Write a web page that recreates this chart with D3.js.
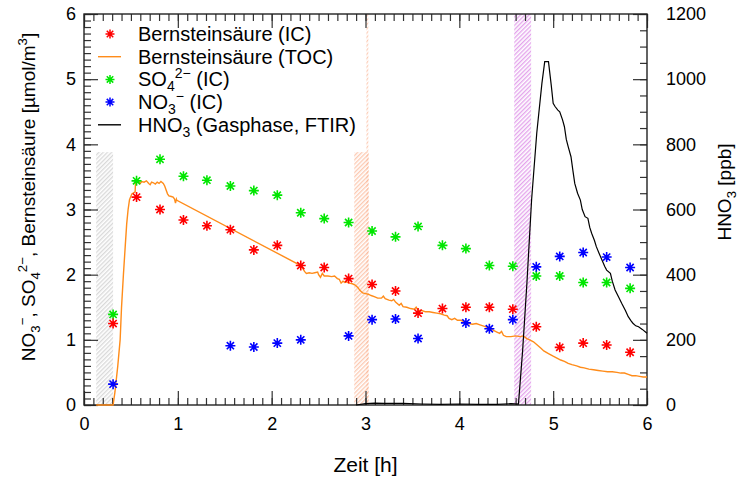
<!DOCTYPE html>
<html>
<head>
<meta charset="utf-8">
<script src="https://cdn.jsdelivr.net/npm/d3@7"></script>
<style>
  html, body { margin: 0; padding: 0; background: #fff; }
  svg { display: block; font-family: "Liberation Sans", Arial, Helvetica, sans-serif; }
</style>
</head>
<body>
<div id="chart"></div>
<script>
// ---- data ----
const sampleTimes = [0.31, 0.56, 0.81, 1.06, 1.31, 1.56, 1.81, 2.06, 2.31, 2.56, 2.82, 3.07,
                     3.32, 3.56, 3.82, 4.07, 4.32, 4.57, 4.82, 5.07, 5.32, 5.57, 5.82];
const succinicIC = [1.25, 3.19, 3.00, 2.84, 2.75, 2.69, 2.38, 2.45, 2.14, 2.11, 1.94, 1.85,
                    1.75, 1.41, 1.48, 1.50, 1.50, 1.47, 1.20, 0.885, 0.95, 0.92, 0.81];
const sulfateIC = [1.39, 3.44, 3.77, 3.51, 3.45, 3.36, 3.29, 3.22, 2.95, 2.86, 2.80, 2.67,
                   2.58, 2.74, 2.45, 2.40, 2.14, 2.13, 1.98, 1.98, 1.88, 1.88, 1.79];
const nitrateIC = [0.32, null, null, null, null, 0.91, 0.89, 0.95, 1.00, null, 1.06, 1.31,
                   1.32, 1.02, null, 1.26, 1.17, 1.31, 2.12, 2.28, 2.34, 2.27, 2.11];

const tocTime = [0.13, 0.31, 0.33, 0.36, 0.385, 0.40, 0.42, 0.44, 0.455, 0.47, 0.485, 0.51, 0.545,
  0.55, 0.58, 0.60, 0.615, 0.64, 0.665, 0.69, 0.705, 0.72, 0.74, 0.76, 0.78, 0.80, 0.82, 0.845,
  0.86, 0.875, 0.89, 0.905, 0.93, 0.95, 0.965, 0.975, 0.985, 0.99,
  2.31, 2.33, 2.35, 2.37, 2.40, 2.43, 2.46, 2.49, 2.50, 2.52, 2.54, 2.56, 2.60, 2.64, 2.67, 2.70,
  2.72, 2.74, 2.76, 2.78, 2.80, 2.83, 2.86, 2.89, 2.92, 2.94, 2.97, 3.00, 3.03, 3.06, 3.10, 3.13,
  3.17, 3.19, 3.21, 3.25, 3.28, 3.30, 3.32, 3.36, 3.38, 3.40, 3.44, 3.48, 3.52, 3.54, 3.56, 3.60,
  3.64, 3.68, 3.72, 3.76, 3.80, 3.84, 3.87, 3.89, 3.92, 3.95, 3.98, 4.02, 4.06, 4.10, 4.14, 4.18,
  4.22, 4.26, 4.30, 4.34, 4.37, 4.40, 4.43, 4.45, 4.47, 4.50, 4.55, 4.60, 4.65, 4.68, 4.72, 4.76,
  4.79, 4.83, 4.87, 4.90, 4.95, 5.00, 5.04, 5.08, 5.12, 5.16, 5.20, 5.25, 5.29, 5.33, 5.38, 5.43,
  5.48, 5.53, 5.58, 5.63, 5.68, 5.72, 5.76, 5.80, 5.84, 5.88, 5.92, 5.96, 6.00];
const tocValue = [0, 0, 0.2, 0.6, 1.0, 1.5, 2.0, 2.45, 2.78, 3.0, 3.15, 3.24, 3.27,
  3.44, 3.43, 3.40, 3.43, 3.42, 3.44, 3.40, 3.38, 3.42, 3.41, 3.39, 3.42, 3.40, 3.43, 3.40,
  3.36, 3.30, 3.24, 3.21, 3.20, 3.19, 3.16, 3.10, 3.16, 3.14,
  2.14, 2.10, 2.05, 2.02, 2.03, 2.02, 2.03, 2.04, 2.00, 1.96, 2.02, 1.98, 1.98, 1.97, 1.98, 1.94,
  1.93, 1.87, 1.90, 1.88, 1.89, 1.87, 1.86, 1.84, 1.80, 1.76, 1.72, 1.71, 1.70, 1.68, 1.66, 1.64,
  1.64, 1.67, 1.63, 1.61, 1.60, 1.62, 1.58, 1.53, 1.56, 1.51, 1.50, 1.48, 1.47, 1.50, 1.45, 1.45,
  1.43, 1.43, 1.42, 1.41, 1.40, 1.38, 1.37, 1.33, 1.31, 1.33, 1.30, 1.30, 1.27, 1.25, 1.24, 1.25,
  1.23, 1.21, 1.19, 1.17, 1.14, 1.12, 1.10, 1.13, 1.07, 1.05, 1.05, 1.06, 1.05, 1.06, 1.02, 0.99,
  0.97, 0.92, 0.87, 0.83, 0.79, 0.75, 0.72, 0.69, 0.67, 0.64, 0.62, 0.60, 0.58, 0.57, 0.55, 0.54,
  0.53, 0.52, 0.51, 0.51, 0.50, 0.49, 0.49, 0.47, 0.45, 0.45, 0.44, 0.43, 0.43];

const hno3Time = [2.90, 3.00, 3.10, 3.20, 3.40, 3.60, 3.80, 4.00, 4.20, 4.40, 4.55, 4.63,
  4.675, 4.72, 4.77, 4.825, 4.88, 4.91, 4.95, 4.98, 5.00, 5.02, 5.05, 5.07, 5.10, 5.12, 5.14,
  5.16, 5.19, 5.21, 5.23, 5.26, 5.29, 5.31, 5.34, 5.37, 5.39, 5.41, 5.44, 5.46, 5.49, 5.52, 5.55,
  5.57, 5.61, 5.63, 5.66, 5.70, 5.73, 5.77, 5.80, 5.83, 5.85, 5.88, 5.91, 5.95, 6.00];
const hno3Value = [0, 4, 6, 5, 5, 3, 2, 3, 2, 2, 4, 3,
  169, 373, 629, 834, 987, 1054, 1054, 980, 926, 916, 905, 900, 875, 854, 815,
  793, 762, 720, 680, 650, 629, 600, 578, 573, 545, 527, 505, 486, 465, 445, 425,
  414, 404, 380, 353, 330, 312, 290, 271, 258, 251, 243, 240, 232, 220];

// hatched time windows [start, end, upper limit in µmol/m³]
const grayBand = [0.13, 0.31, 3.88];
const orangeBand = [2.88, 3.035, 3.88];
const orangeMarker = [3.01, 3.03, 6];
const purpleBand = [4.585, 4.765, 6];

const xTicks = [0, 1, 2, 3, 4, 5, 6];
const yLeftTicks = [0, 1, 2, 3, 4, 5, 6];
const yRightTicks = [0, 200, 400, 600, 800, 1000, 1200];

// ---- layout ----
const W = 738, H = 477;
const M = { left: 84, right: 91, top: 14, bottom: 72 };
const TICK_FONT = "'Liberation Sans Narrow', 'Arial Narrow', 'Liberation Sans', sans-serif";
const COL = { red: "#ff0000", green: "#00e600", blue: "#0000ff", orange: "#ff8c1a", black: "#000" };

const svg = d3.select("#chart").append("svg")
    .attr("width", W).attr("height", H)
    .attr("viewBox", `0 0 ${W} ${H}`);

const x = d3.scaleLinear().domain([0, 6]).range([M.left, W - M.right]);
const y = d3.scaleLinear().domain([0, 6]).range([H - M.bottom, M.top]);
const yR = d3.scaleLinear().domain([0, 1200]).range([H - M.bottom, M.top]);

// Hatch patterns
const defs = svg.append("defs");
function hatch(id, color) {
    const p = defs.append("pattern")
        .attr("id", id)
        .attr("width", 3).attr("height", 3)
        .attr("patternUnits", "userSpaceOnUse")
        .attr("patternTransform", "rotate(45)");
    p.append("line")
        .attr("x1", 0.75).attr("y1", 0).attr("x2", 0.75).attr("y2", 3)
        .attr("stroke", color).attr("stroke-width", 0.9);
}
hatch("hGray", "#c6c6c6");
hatch("hOrange", "#fbb08c");
hatch("hPurple", "#d676e2");

const bands = svg.append("g");
[[grayBand, "hGray"], [orangeBand, "hOrange"], [orangeMarker, "hOrange"], [purpleBand, "hPurple"]]
    .forEach(([b, id]) => {
        bands.append("rect")
            .attr("x", x(b[0])).attr("width", x(b[1]) - x(b[0]))
            .attr("y", y(b[2])).attr("height", y(0) - y(b[2]))
            .attr("fill", `url(#${id})`);
    });

// Axes: IDL style, ticks pointing inward, minor ticks every tenth
const tickStyle = g => {
    g.select(".domain").remove();
    g.selectAll(".tick line").attr("stroke", "#333").attr("stroke-width", 1.2);
    g.selectAll("text").attr("font-size", 18).attr("fill", "#000")
        .attr("font-family", TICK_FONT);
};
const minor = d3.range(0, 6.0001, 0.1);
const minorR = d3.range(0, 1200.1, 50);
const bottomY = H - M.bottom, rightX = W - M.right;

svg.append("g").attr("transform", `translate(0,${bottomY})`)
    .call(d3.axisBottom(x).tickValues(minor).tickFormat("").tickSizeInner(-7).tickSizeOuter(0)).call(tickStyle);
svg.append("g").attr("transform", `translate(0,${bottomY})`)
    .call(d3.axisBottom(x).tickValues(xTicks).tickFormat(d3.format("d")).tickSizeInner(-14).tickSizeOuter(0).tickPadding(12)).call(tickStyle);
svg.append("g").attr("transform", `translate(0,${M.top})`)
    .call(d3.axisTop(x).tickValues(minor).tickFormat("").tickSizeInner(-7).tickSizeOuter(0)).call(tickStyle);
svg.append("g").attr("transform", `translate(0,${M.top})`)
    .call(d3.axisTop(x).tickValues(xTicks).tickFormat("").tickSizeInner(-14).tickSizeOuter(0)).call(tickStyle);

svg.append("g").attr("transform", `translate(${M.left},0)`)
    .call(d3.axisLeft(y).tickValues(minor).tickFormat("").tickSizeInner(-7).tickSizeOuter(0)).call(tickStyle);
svg.append("g").attr("transform", `translate(${M.left},0)`)
    .call(d3.axisLeft(y).tickValues(yLeftTicks).tickFormat(d3.format("d")).tickSizeInner(-14).tickSizeOuter(0).tickPadding(8)).call(tickStyle);

svg.append("g").attr("transform", `translate(${rightX},0)`)
    .call(d3.axisRight(yR).tickValues(minorR).tickFormat("").tickSizeInner(-7).tickSizeOuter(0)).call(tickStyle);
svg.append("g").attr("transform", `translate(${rightX},0)`)
    .call(d3.axisRight(yR).tickValues(yRightTicks).tickFormat(d3.format("d")).tickSizeInner(-14).tickSizeOuter(0).tickPadding(19)).call(tickStyle);

// frame
svg.append("rect")
    .attr("x", M.left).attr("y", M.top)
    .attr("width", rightX - M.left).attr("height", bottomY - M.top)
    .attr("fill", "none").attr("stroke", "#222").attr("stroke-width", 1.4);

// Lines
const tocLine = d3.line().x(d => x(d[0])).y(d => y(d[1]));
svg.append("path")
    .datum(d3.zip(tocTime, tocValue))
    .attr("fill", "none").attr("stroke", COL.orange).attr("stroke-width", 1.4)
    .attr("d", tocLine);

const hno3Line = d3.line().x(d => x(d[0])).y(d => yR(d[1]));
svg.append("path")
    .datum(d3.zip(hno3Time, hno3Value))
    .attr("fill", "none").attr("stroke", COL.black).attr("stroke-width", 1.2)
    .attr("d", hno3Line);

// Asterisk markers (IDL psym=2)
function star(r) {
    const d = r * 0.72;
    return `M0,${-r}L0,${r}M${-r},0L${r},0M${-d},${-d}L${d},${d}M${-d},${d}L${d},${-d}`;
}
function drawStars(values, color) {
    svg.append("g").selectAll("path")
        .data(d3.zip(sampleTimes, values).filter(d => d[1] != null))
        .join("path")
        .attr("transform", d => `translate(${x(d[0])},${y(d[1])})`)
        .attr("d", star(5))
        .attr("stroke", color).attr("stroke-width", 1.6).attr("fill", "none");
}
drawStars(sulfateIC, COL.green);
drawStars(succinicIC, COL.red);
drawStars(nitrateIC, COL.blue);

// Legend
const LEG_FONT = 20;
const legend = svg.append("g").attr("font-size", LEG_FONT);
const rows = [
    { kind: "star", color: COL.red, parts: [["Bernsteinsäure (IC)", 0]] },
    { kind: "line", color: COL.orange, parts: [["Bernsteinsäure (TOC)", 0]] },
    { kind: "star", color: COL.green, parts: [["SO", 0], ["4", 1], ["2−", -1], [" (IC)", 0]] },
    { kind: "star", color: COL.blue, parts: [["NO", 0], ["3", 1], ["−", -1], [" (IC)", 0]] },
    { kind: "line", color: COL.black, parts: [["HNO", 0], ["3", 1], [" (Gasphase, FTIR)", 0]] }
];
function richText(sel, parts, size) {
    let shift = 0;
    parts.forEach(([t, lvl]) => {
        const target = lvl === 1 ? 5 : lvl === -1 ? -8 : 0;
        sel.append("tspan")
            .attr("dy", target - shift)
            .attr("font-size", lvl === 0 ? size : size * 0.7)
            .text(t);
        shift = target;
    });
}
rows.forEach((r, i) => {
    const cy = 34 + i * 22.7;
    if (r.kind === "star") {
        legend.append("path").attr("transform", `translate(110,${cy})`).attr("d", star(4.5))
            .attr("stroke", r.color).attr("stroke-width", 1.5).attr("fill", "none");
    } else {
        legend.append("line").attr("x1", 98).attr("x2", 121).attr("y1", cy).attr("y2", cy)
            .attr("stroke", r.color).attr("stroke-width", 1.4);
    }
    const t = legend.append("text").attr("x", 138).attr("y", cy + 7);
    richText(t, r.parts, LEG_FONT);
});

// Axis titles
svg.append("text")
    .attr("x", (M.left + rightX) / 2).attr("y", 472)
    .attr("text-anchor", "middle").attr("font-size", 21)
    .text("Zeit [h]");

const leftTitle = svg.append("text")
    .attr("transform", "translate(35,197) rotate(-90)")
    .attr("text-anchor", "middle").attr("font-size", 19);
richText(leftTitle, [["NO", 0], ["3", 1], ["−", -1], [", SO", 0], ["4", 1], ["2−", -1],
    [", Bernsteinsäure [µmol/m", 0], ["3", -1], ["]", 0]], 19);

const rightTitle = svg.append("text")
    .attr("transform", "translate(731,192) rotate(-90)")
    .attr("text-anchor", "middle").attr("font-size", 19)
    .attr("font-family", TICK_FONT);
richText(rightTitle, [["HNO", 0], ["3", 1], [" [ppb]", 0]], 19);
</script>
</body>
</html>
